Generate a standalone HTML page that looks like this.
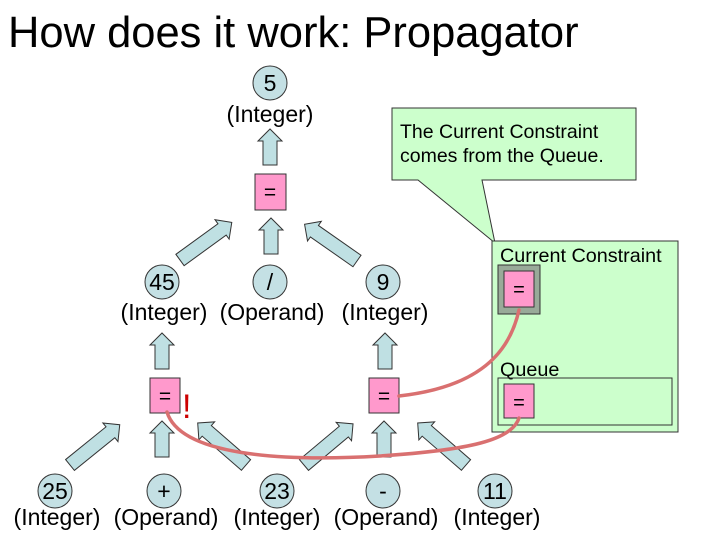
<!DOCTYPE html>
<html><head><style>body{margin:0;background:#fff}svg{display:block}</style></head><body>
<svg width="720" height="540" xmlns="http://www.w3.org/2000/svg" font-family="Liberation Sans, sans-serif">
<defs>
<g id="a64"><polygon points="0,-7 52,-7 52,-12 64,0 52,12 52,7 0,7"/></g>
<g id="a36"><polygon points="0,-7 24,-7 24,-12 36,0 24,12 24,7 0,7"/></g>
</defs>
<text x="8" y="47" font-size="43.5">How does it work: Propagator</text>
<!-- callout -->
<polygon points="392,108 636,108 636,180 482,180 495,243 418,180 392,180" fill="#ccffcc" stroke="#333" stroke-width="1"/>
<text x="400" y="138" font-size="19.5">The Current Constraint</text>
<text x="400" y="162" font-size="19.5">comes from the Queue.</text>
<!-- green box -->
<rect x="492" y="241" width="186" height="191" fill="#ccffcc" stroke="#333"/>
<text x="500" y="262" font-size="19.8">Current Constraint</text>
<rect x="498" y="265" width="42" height="49" fill="#99aa99" stroke="#333"/>
<rect x="504" y="271" width="30" height="36" fill="#ff99cc" stroke="#333"/>
<text x="519" y="296" font-size="20" text-anchor="middle">=</text>
<text x="500" y="376" font-size="19.8">Queue</text>
<rect x="498" y="378" width="174" height="47" fill="none" stroke="#333"/>
<rect x="504" y="384" width="30" height="34" fill="#ff99cc" stroke="#333"/>
<text x="519" y="409" font-size="20" text-anchor="middle">=</text>
<!-- arrows -->
<g fill="#bfe0e3" stroke="#333" stroke-width="1">
<use href="#a36" transform="translate(270,165) rotate(-90)"/>
<use href="#a64" transform="translate(180,260) rotate(-36)"/>
<use href="#a36" transform="translate(271,254) rotate(-90)"/>
<use href="#a64" transform="translate(357,261) rotate(-145)"/>
<use href="#a36" transform="translate(162,369) rotate(-90)"/>
<use href="#a36" transform="translate(385,369) rotate(-90)"/>
<use href="#a64" transform="translate(70,465) rotate(-39)"/>
<use href="#a36" transform="translate(162,457) rotate(-90)"/>
<use href="#a64" transform="translate(246,465) rotate(-139)"/>
<use href="#a64" transform="translate(304,465) rotate(-40)"/>
<use href="#a36" transform="translate(384,457) rotate(-90)"/>
<use href="#a64" transform="translate(466,465) rotate(-139)"/>
</g>
<!-- circles -->
<g fill="#c4e0e4" stroke="#333">
<circle cx="270" cy="83" r="17"/>
<circle cx="162" cy="282" r="17"/><circle cx="270" cy="282" r="17"/><circle cx="383" cy="282" r="17"/>
<circle cx="55" cy="491" r="17"/><circle cx="164" cy="491" r="17"/><circle cx="277" cy="491" r="17"/><circle cx="383" cy="491" r="17"/><circle cx="495" cy="491" r="17"/>
</g>
<g font-size="23" text-anchor="middle">
<text x="270" y="91">5</text><text x="270" y="122">(Integer)</text>
<text x="162" y="290">45</text><text x="270" y="290">/</text><text x="383" y="290">9</text>
<text x="164" y="320">(Integer)</text><text x="272" y="320">(Operand)</text><text x="385" y="320">(Integer)</text>
<text x="55" y="499">25</text><text x="164" y="499">+</text><text x="277" y="499">23</text><text x="383" y="499">-</text><text x="495" y="499">11</text>
<text x="57" y="525">(Integer)</text><text x="166" y="525">(Operand)</text><text x="277" y="525">(Integer)</text><text x="386" y="525">(Operand)</text><text x="497" y="525">(Integer)</text>
</g>
<!-- pink boxes -->
<g fill="#ff99cc" stroke="#333">
<rect x="255" y="174" width="31" height="36"/>
<rect x="150" y="378" width="30" height="35"/>
<rect x="369" y="378" width="30" height="35"/>
</g>
<g font-size="21" text-anchor="middle">
<text x="270" y="199">=</text><text x="165" y="403">=</text><text x="384" y="403">=</text>
</g>
<text x="182" y="418" font-size="34" fill="#cc0000">!</text>
<!-- red curves -->
<g fill="none" stroke="#d97070" stroke-width="3.5" stroke-linecap="round">
<path d="M167,412 C180,455 280,462 380,456 C470,450 512,440 519,418"/>
<path d="M399,396 C470,388 508,360 519,310"/>
</g>
</svg>
</body></html>
